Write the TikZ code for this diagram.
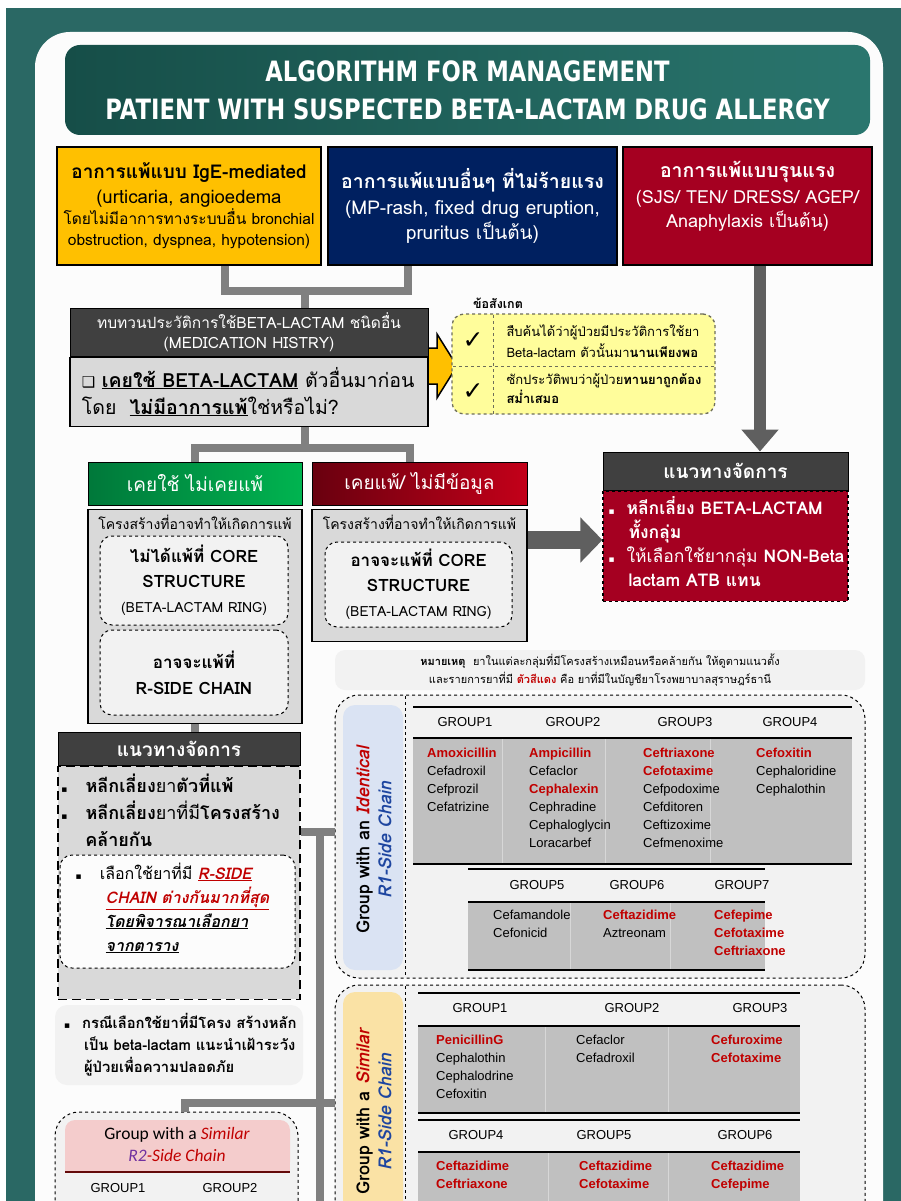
\documentclass[tikz,border=0pt]{standalone}
\usepackage{fontspec}
\setmainfont{Loma}[Script=Thai]
\newfontfamily\titlefont{DejaVu Sans}[FakeStretch=0.81]
\newfontfamily\drugfont{Liberation Sans}
\newfontfamily\symfont{DejaVu Sans}
\newfontfamily\calfont{Carlito}
\usetikzlibrary{arrows.meta,calc,positioning}

\definecolor{tealBg}{RGB}{42,104,100}
\definecolor{cardWhite}{RGB}{252,252,252}
\definecolor{bannerL}{RGB}{22,78,72}
\definecolor{bannerR}{RGB}{42,118,110}
\definecolor{gold}{RGB}{255,192,0}
\definecolor{navy}{RGB}{0,32,96}
\definecolor{crimson}{RGB}{165,0,33}
\definecolor{darkHead}{RGB}{64,64,64}
\definecolor{lightGray}{RGB}{217,217,217}
\definecolor{paleGray}{RGB}{242,242,242}
\definecolor{connGray}{RGB}{128,128,128}
\definecolor{arrowGray}{RGB}{95,95,95}
\definecolor{noteYellow}{RGB}{255,253,155}
\definecolor{noteBorder}{RGB}{110,110,90}
\definecolor{greenL}{RGB}{0,120,58}
\definecolor{greenR}{RGB}{0,180,80}
\definecolor{redL}{RGB}{105,0,15}
\definecolor{redR}{RGB}{195,0,25}
\definecolor{cellGray}{RGB}{192,192,192}
\definecolor{sepGray}{RGB}{215,215,215}
\definecolor{drugRed}{RGB}{192,0,0}
\definecolor{chainBlue}{RGB}{30,70,160}
\definecolor{chainPurple}{RGB}{112,48,160}
\definecolor{lightBlue}{RGB}{218,227,243}
\definecolor{peach}{RGB}{250,226,165}
\definecolor{pinkHd}{RGB}{244,204,204}
\definecolor{ruleRed}{RGB}{100,10,10}

\newcommand{\sqb}{{\symfont\fontsize{9}{9}\selectfont ▪}}
\newcommand{\dr}[1]{\textcolor{drugRed}{\textbf{#1}}}

\tikzstyle{banner} = [rectangle, rounded corners=15pt, minimum width=805pt, minimum height=90pt, left color=bannerL, right color=bannerR, text=white, align=center, font=\titlefont\bfseries\fontsize{28}{38}\selectfont]
\tikzstyle{topbox} = [rectangle, draw=black, line width=1.5pt, minimum height=118pt, align=center, inner sep=0pt, font=\fontsize{15}{21}\selectfont]
\tikzstyle{head} = [rectangle, fill=darkHead, draw=black, line width=1pt, text=white, align=center, inner sep=0pt]
\tikzstyle{graybody} = [rectangle, fill=lightGray, draw=black, line width=1.2pt, inner sep=0pt]
\tikzstyle{dashbox} = [rectangle, rounded corners=12pt, draw=black, dashed, line width=1pt, fill=paleGray, align=center, inner sep=0pt]
\tikzstyle{groupbox} = [rectangle, rounded corners=24pt, draw=black, dashed, line width=1pt, fill=paleGray, inner sep=0pt]
\tikzstyle{conn} = [line width=8pt, color=connGray]
\tikzstyle{bigarrow} = [line width=12pt, color=arrowGray, -{Triangle[width=36pt,length=22pt]}]
\tikzstyle{rule} = [line width=2.5pt, black]
\tikzstyle{sep} = [line width=1pt, sepGray]
\tikzstyle{grouphd} = [font=\drugfont\fontsize{13}{15}\selectfont]
\tikzstyle{druglist} = [anchor=north west, align=left, inner sep=0pt, font=\drugfont\fontsize{13}{18}\selectfont]

\begin{document}
\begin{tikzpicture}[x=1pt,y=-1pt]
\useasboundingbox (0,0) rectangle (901,1201);
\clip (0,0) rectangle (901,1201);
% background and card
\fill[white] (0,0) rectangle (901,1201);
\fill[tealBg] (6,8) rectangle (901,1201);
\fill[cardWhite, rounded corners=35pt] (35,32) rectangle (883,1260);

% title
\node (title)[banner] at (467.5,90) {ALGORITHM FOR MANAGEMENT\\PATIENT WITH SUSPECTED BETA-LACTAM DRUG ALLERGY};

% type of reaction
\node (ige)[topbox, fill=gold, text=black, minimum width=264pt] at (189,206) {{\bfseries\fontsize{19}{20}\selectfont อาการแพ้แบบ IgE-mediated}\\[4pt]{\fontsize{18.5}{20}\selectfont (urticaria, angioedema}\\{\fontsize{15.5}{20}\selectfont โดยไม่มีอาการทางระบบอื่น bronchial}\\{\fontsize{15.5}{20}\selectfont obstruction, dyspnea, hypotension)}};
\node (mild)[topbox, fill=navy, text=white, minimum width=289pt] at (472.5,206) {{\bfseries\fontsize{19.5}{20}\selectfont อาการแพ้แบบอื่นๆ ที่ไม่ร้ายแรง}\\[5pt]{\fontsize{19}{20}\selectfont (MP-rash, fixed drug eruption,}\\[3pt]{\fontsize{19}{20}\selectfont pruritus เป็นต้น)}};
\node (severe)[topbox, fill=crimson, text=white, minimum width=249pt] at (747.5,206) {};
\node (severetxt)[align=center, text=white, inner sep=0pt, font=\fontsize{15}{21}\selectfont] at ($(severe.center)+(0,-10)$) {{\bfseries\fontsize{19.5}{20}\selectfont อาการแพ้แบบรุนแรง}\\[5pt]{\fontsize{18}{20}\selectfont (SJS/ TEN/ DRESS/ AGEP/}\\[3pt]{\fontsize{18}{20}\selectfont Anaphylaxis เป็นต้น)}};

\coordinate (ujoin) at (305,291);
\draw[conn] ([xshift=36pt]ige.south) |- (ujoin) -| ([xshift=-64.5pt]mild.south);

% medication history
\draw[fill=gold, line width=1.5pt] (424,348) -- (437,348) -- (437,334) -- (457,366) -- (437,398) -- (437,384) -- (424,384) -- cycle;
\node (histhead)[head, minimum width=358pt, minimum height=48pt, font=\fontsize{15.5}{20}\selectfont] at (249,332) {ทบทวนประวัติการใช้BETA-LACTAM ชนิดอื่น\\(MEDICATION HISTRY)};
\node (histq)[graybody, minimum width=358pt, minimum height=69pt, below=0pt of histhead] {};
\node (histtxt)[anchor=west, align=left, font=\fontsize{19.5}{27}\selectfont] at ($(histq.west)+(9,0)$) {{\symfont\fontsize{15}{15}\selectfont ❑} \textbf{\underline{เคยใช้ BETA-LACTAM}} ตัวอื่นมาก่อน\\โดย~~\textbf{\underline{ไม่มีอาการแพ้}}ใช่หรือไม่?};
\draw[conn] (ujoin) -- (ujoin |- histhead.north);

% remarks
\node (notelbl)[font=\bfseries\fontsize{12.5}{14}\selectfont] at (498,303) {ข้อสังเกต};
\node (notebox)[rectangle, rounded corners=12pt, draw=noteBorder, dashed, line width=1.3pt, fill=noteYellow, minimum width=263pt, minimum height=100pt] at (583.5,364) {};
\draw[dashed, noteBorder, line width=1pt] (493,315) -- (493,414);
\draw[dashed, noteBorder, line width=1pt] (453,366) -- (714,366);
\node (chk1)[font=\symfont\bfseries\fontsize{25}{25}\selectfont] at (473,341) {✓};
\node (chk2)[font=\symfont\bfseries\fontsize{25}{25}\selectfont] at (473,392) {✓};
\node (note1)[anchor=west, align=left, font=\fontsize{13}{21}\selectfont] at (503,341) {สืบค้นได้ว่าผู้ป่วยมีประวัติการใช้ยา\\Beta-lactam ตัวนั้นมา\textbf{นานเพียงพอ}};
\node (note2)[anchor=west, align=left, font=\fontsize{13}{19}\selectfont] at (503,389) {ซักประวัติพบว่าผู้ป่วย\textbf{ทานยาถูกต้อง}\\\textbf{สม่ำเสมอ}};

% severe branch
\node (rmgmthead)[head, minimum width=245pt, minimum height=38pt, font=\bfseries\fontsize{19}{20}\selectfont] at (725.5,471) {แนวทางจัดการ};
\node (rmgmtbody)[rectangle, fill=crimson, draw=black, dashed, line width=1.2pt, minimum width=245pt, minimum height=110pt, below=0pt of rmgmthead] {};
\node (rmgmttxt)[anchor=north west, align=left, text=white, inner sep=0pt, font=\fontsize{17.5}{24}\selectfont] at ($(rmgmtbody.north west)+(6,6)$) {\sqb~~\textbf{หลีกเลี่ยง BETA-LACTAM}\\\hspace{20pt}\textbf{ทั้งกลุ่ม}\\\sqb~~ให้เลือกใช้ยากลุ่ม \textbf{NON-Beta}\\\hspace{20pt}\textbf{lactam ATB แทน}};
\draw[bigarrow] ([xshift=12.5pt]severe.south) -- ([xshift=34.5pt]rmgmthead.north);

% history result
\node (usedok)[head, left color=greenL, right color=greenR, minimum width=214pt, minimum height=43pt, font=\fontsize{19}{22}\selectfont] at (195,483.5) {เคยใช้ ไม่เคยแพ้};
\node (allergic)[head, left color=redL, right color=redR, minimum width=215pt, minimum height=43pt, font=\fontsize{19}{22}\selectfont] at (419.5,483.5) {เคยแพ้/ ไม่มีข้อมูล};
\coordinate (vsplit) at (305,448);
\draw[conn] (vsplit |- histq.south) -- (vsplit);
\draw[conn] (usedok.north) |- (vsplit) -| ([xshift=-9.5pt]allergic.north);

\node (usedbody)[graybody, minimum width=214pt, minimum height=214pt, below=3pt of usedok] {};
\node (usedcap)[below=3pt of usedbody.north, font=\fontsize{14}{16}\selectfont] {โครงสร้างที่อาจทำให้เกิดการแพ้};
\node (nocore)[dashbox, minimum width=188pt, minimum height=89pt, font=\fontsize{17}{25}\selectfont] at (194,580.5) {\textbf{ไม่ได้แพ้ที่ CORE}\\\textbf{STRUCTURE}\\{\fontsize{14}{16}\selectfont (BETA-LACTAM RING)}};
\node (rside)[dashbox, minimum width=188pt, minimum height=85pt, font=\bfseries\fontsize{17}{26}\selectfont] at (194,672.5) {อาจจะแพ้ที่\\R-SIDE CHAIN};

\node (allbody)[graybody, minimum width=215pt, minimum height=132pt, below=3pt of allergic] {};
\node (allcap)[below=3pt of allbody.north, font=\fontsize{14}{16}\selectfont] {โครงสร้างที่อาจทำให้เกิดการแพ้};
\node (maycore)[dashbox, minimum width=187pt, minimum height=85pt, font=\fontsize{17}{25}\selectfont] at (418.5,584.5) {\textbf{อาจจะแพ้ที่ CORE}\\\textbf{STRUCTURE}\\{\fontsize{14}{16}\selectfont (BETA-LACTAM RING)}};
\coordinate (armid) at (565,540);
\draw[line width=18pt, color=arrowGray, -{Triangle[width=44pt,length=22pt]}] (armid -| allbody.east) -- (armid -| rmgmtbody.west);

% management when used without allergy
\node (lmgmthead)[head, minimum width=242pt, minimum height=33pt, font=\bfseries\fontsize{19}{20}\selectfont] at (179,748.5) {แนวทางจัดการ};
\draw[conn] (usedbody.south) -- (usedbody.south |- lmgmthead.north);
\node (lmgmtbody)[rectangle, fill=lightGray, draw=black, dash pattern=on 9pt off 5pt, line width=1.8pt, minimum width=242pt, minimum height=233pt, below=0pt of lmgmthead] {};
\node (lmgmttxt)[anchor=north west, align=left, inner sep=0pt, font=\fontsize{18}{27}\selectfont] at ($(lmgmtbody.north west)+(4,8)$) {\sqb~~~\textbf{หลีกเลี่ยง}ยา\textbf{ตัวที่แพ้}\\\sqb~~~\textbf{หลีกเลี่ยง}ยาที่มี\textbf{โครงสร้าง}\\\hspace{24pt}\textbf{คล้ายกัน}};
\node (choose)[dashbox, fill=cardWhite, minimum width=235pt, minimum height=113pt] at (177.5,911.5) {};
\node (choosetxt)[anchor=north west, align=left, inner sep=0pt, font=\fontsize{16}{24}\selectfont] at ($(choose.north west)+(16,8)$) {\sqb\hspace{18pt}เลือกใช้ยาที่มี \textcolor{drugRed}{\bfseries\itshape\underline{R-SIDE}}\\\hspace{30pt}\textcolor{drugRed}{\bfseries\itshape\underline{CHAIN ต่างกันมากที่สุด}}\\\hspace{30pt}{\bfseries\itshape\underline{โดยพิจารณาเลือกยา}}\\\hspace{30pt}{\bfseries\itshape\underline{จากตาราง}}};
\node (caution)[rectangle, rounded corners=12pt, fill=paleGray, minimum width=248pt, minimum height=80pt] at (179,1045) {};
\node (cautiontxt)[anchor=west, align=left, inner sep=0pt, font=\bfseries\fontsize{14.8}{22}\selectfont] at ($(caution.west)+(9,0)$) {\sqb\hspace{12pt}กรณีเลือกใช้ยาที่มีโครง สร้างหลัก\\\hspace{20pt}เป็น beta-lactam แนะนำเฝ้าระวัง\\\hspace{20pt}ผู้ป่วยเพื่อความปลอดภัย};

% tables on the right
\node (remark)[rectangle, rounded corners=10pt, fill=paleGray, minimum width=530pt, minimum height=40pt, align=center, font=\fontsize{11}{18}\selectfont] at (600,670) {\textbf{หมายเหตุ}~~ยาในแต่ละกลุ่มที่มีโครงสร้างเหมือนหรือคล้ายกัน ให้ดูตามแนวตั้ง\\และรายการยาที่มี \textcolor{drugRed}{\textbf{ตัวสีแดง}} คือ ยาที่มีในบัญชียาโรงพยาบาลสุราษฎร์ธานี};

\node (identical)[groupbox, minimum width=530pt, minimum height=283pt] at (600,836.5) {};
\fill[lightBlue, rounded corners=12pt] (343,705) rectangle (403,970);
\draw[dashed, line width=1pt] (405,696) -- (405,977);
\node (identlbl)[rotate=90, align=center, font=\bfseries\fontsize{18}{22}\selectfont] at (374,840) {Group with an \textcolor{drugRed}{\itshape Identical}\\\textcolor{chainBlue}{\itshape R1-Side Chain}};

\coordinate (branch) at (320,832);
\coordinate (branchlow) at (320,1103);
\coordinate (trunkend) at (320,1215);
\draw[conn] (lmgmtbody.east |- branch) -- (identical.west |- branch);
\draw[conn] (branch) -- (trunkend);

\draw[rule, line width=2pt] (413,707) -- (852,707);
\foreach \x/\g in {465/1,573/2,685/3,790/4}
  \node (ihd\g)[grouphd] at (\x,722) {GROUP\g};
\fill[cellGray] (413,739) rectangle (852,863);
\foreach \x in {502,605,710}
  \draw[sep] (\x,739) -- (\x,863);
\draw[rule] (413,738) -- (852,738);
\draw[rule] (413,864) -- (852,864);
\node (ig1)[druglist] at (427,748) {\dr{Amoxicillin}\\Cefadroxil\\Cefprozil\\Cefatrizine};
\node (ig2)[druglist] at (529,748) {\dr{Ampicillin}\\Cefaclor\\\dr{Cephalexin}\\Cephradine\\Cephaloglycin\\Loracarbef};
\node (ig3)[druglist] at (643,748) {\dr{Ceftriaxone}\\\dr{Cefotaxime}\\Cefpodoxime\\Cefditoren\\Ceftizoxime\\Cefmenoxime};
\node (ig4)[druglist] at (756,748) {\dr{Cefoxitin}\\Cephaloridine\\Cephalothin};

\draw[rule, line width=2pt] (468,869) -- (765,869);
\foreach \x/\g in {537/5,637/6,742/7}
  \node (ihd\g)[grouphd] at (\x,885) {GROUP\g};
\fill[cellGray] (468,903) rectangle (765,969);
\foreach \x in {570,670}
  \draw[sep] (\x,903) -- (\x,969);
\draw[rule] (468,902) -- (765,902);
\draw[rule] (468,970) -- (765,970);
\node (ig5)[druglist] at (493,910) {Cefamandole\\Cefonicid};
\node (ig6)[druglist] at (603,910) {\dr{Ceftazidime}\\Aztreonam};
\node (ig7)[druglist] at (714,910) {\dr{Cefepime}\\\dr{Cefotaxime}\\\dr{Ceftriaxone}};

% similar R1
\node (similar)[groupbox, minimum width=530pt, minimum height=260pt] at (600,1115) {};
\fill[peach, rounded corners=12pt] (343,992) rectangle (403,1240);
\draw[dashed, line width=1pt] (405,986) -- (405,1215);
\node (simlbl)[rotate=90, align=center, font=\bfseries\fontsize{18}{22}\selectfont] at (374,1112) {Group with a \textcolor{drugRed}{\itshape Similar}\\\textcolor{chainBlue}{\itshape R1-Side Chain}};

\draw[rule, line width=2pt] (418,993) -- (800,993);
\foreach \x/\g in {480/1,632/2,760/3}
  \node (shd\g)[grouphd] at (\x,1008) {GROUP\g};
\fill[cellGray] (418,1027) rectangle (800,1112);
\foreach \x in {545,668}
  \draw[sep] (\x,1027) -- (\x,1112);
\draw[rule] (418,1026) -- (800,1026);
\draw[rule] (418,1113) -- (800,1113);
\node (sg1)[druglist] at (436,1035) {\dr{PenicillinG}\\Cephalothin\\Cephalodrine\\Cefoxitin};
\node (sg2)[druglist] at (576,1035) {Cefaclor\\Cefadroxil};
\node (sg3)[druglist] at (711,1035) {\dr{Cefuroxime}\\\dr{Cefotaxime}};

\draw[rule, line width=2pt] (418,1120) -- (800,1120);
\foreach \x/\g in {476/4,604/5,745/6}
  \node (shd\g)[grouphd] at (\x,1135) {GROUP\g};
\fill[cellGray] (418,1153) rectangle (800,1215);
\foreach \x in {548,668}
  \draw[sep] (\x,1153) -- (\x,1215);
\draw[rule] (418,1152) -- (800,1152);
\node (sg4)[druglist] at (436,1161) {\dr{Ceftazidime}\\\dr{Ceftriaxone}};
\node (sg5)[druglist] at (579,1161) {\dr{Ceftazidime}\\\dr{Cefotaxime}};
\node (sg6)[druglist] at (711,1161) {\dr{Ceftazidime}\\\dr{Cefepime}};

% similar R2
\node (r2box)[groupbox, minimum width=243pt, minimum height=120pt] at (176.5,1172) {};
\fill[pinkHd, rounded corners=10pt] (65,1120) rectangle (290,1172);
\fill[pinkHd] (65,1160) rectangle (290,1172);
\draw[line width=2.5pt, ruleRed] (65,1172) -- (290,1172);
\node (r2lbl)[align=center, font=\calfont\fontsize{17.5}{22}\selectfont] at (177,1144) {Group with a \textcolor{drugRed}{\itshape Similar}\\\textcolor{chainPurple}{\itshape R2}\textcolor{drugRed}{\itshape -Side Chain}};
\node (r2hd1)[grouphd] at (118,1188) {GROUP1};
\node (r2hd2)[grouphd] at (230,1188) {GROUP2};
\draw[conn] ([xshift=8.5pt]r2box.north) |- (branchlow) -- (branchlow -| similar.west);
\end{tikzpicture}
\end{document}
